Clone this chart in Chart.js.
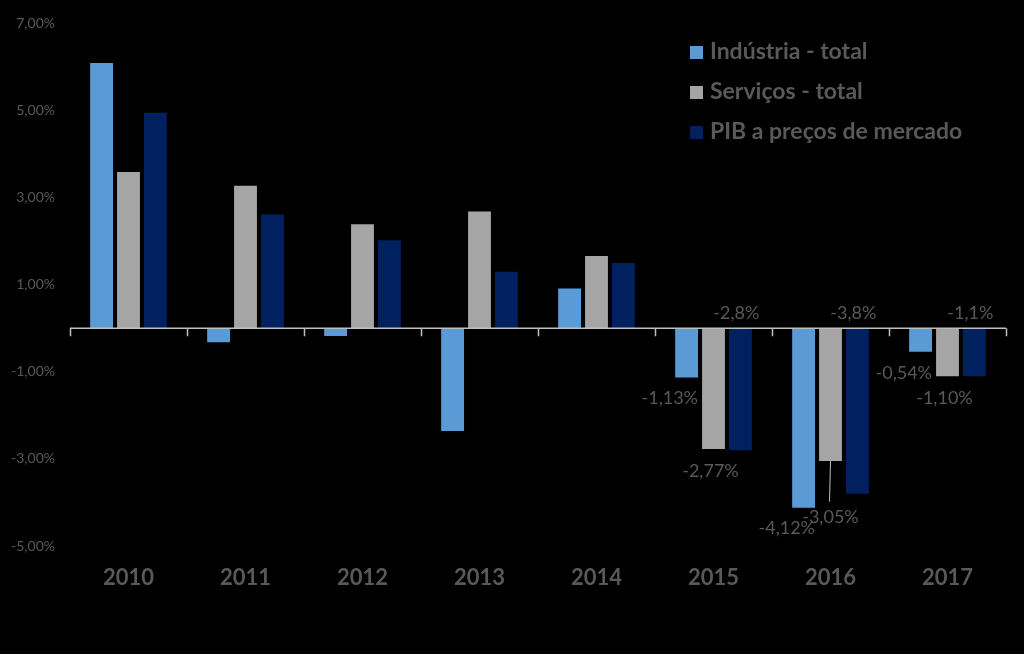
<!DOCTYPE html>
<html>
<head>
<meta charset="utf-8">
<script src="https://cdn.jsdelivr.net/npm/chart.js@4/dist/chart.umd.min.js"></script>
<style>
	html, body { margin: 0; padding: 0; background: #000; }
	canvas { display: block; }
</style>
</head>
<body>
<canvas id="grafico" width="1024" height="654"></canvas>
<script>
// anos e taxas de crescimento (%)
const anos = ['2010', '2011', '2012', '2013', '2014', '2015', '2016', '2017'];
const industria = [6.09, -0.32, -0.18, -2.36, 0.91, -1.13, -4.12, -0.54];
const servicos = [3.59, 3.27, 2.39, 2.68, 1.66, -2.77, -3.05, -1.10];
const pib = [4.95, 2.61, 2.02, 1.30, 1.50, -2.8, -3.8, -1.1];
const nomes = ['Indústria - total', 'Serviços - total', 'PIB a preços de mercado'];
const anosComRotulo = ['2015', '2016', '2017'];
const casasDecimais = [2, 2, 1];

const cores = ['#5B9BD5', '#A5A5A5', '#002060'];
const cinzaTexto = '#595959';
const fonte = 'Lato, "Open Sans", sans-serif';

function formata(v, casas) {
	return v.toFixed(casas).replace('.', ',') + '%';
}

// linha do zero com marcas entre as categorias
const eixoZero = {
	id: 'eixoZero',
	afterDatasetsDraw(chart) {
		const ctx = chart.ctx;
		const area = chart.chartArea;
		const y0 = chart.scales.y.getPixelForValue(0);
		const passo = (area.right - area.left) / anos.length;
		ctx.save();
		ctx.strokeStyle = '#BFBFBF';
		ctx.lineWidth = 1.5;
		ctx.beginPath();
		ctx.moveTo(area.left, y0);
		ctx.lineTo(area.right, y0);
		for (let i = 0; i <= anos.length; i++) {
			const x = Math.round(area.left + i * passo) + 0.5;
			ctx.moveTo(x, y0);
			ctx.lineTo(x, y0 + 8);
		}
		ctx.stroke();
		ctx.restore();
	}
};

// rótulos de dados dos últimos anos
const rotulos = {
	id: 'rotulos',
	afterDatasetsDraw(chart) {
		const ctx = chart.ctx;
		const y0 = chart.scales.y.getPixelForValue(0);
		ctx.save();
		ctx.font = '18px ' + fonte;
		ctx.fillStyle = cinzaTexto;
		ctx.textBaseline = 'middle';
		anos.forEach(function(ano, j) {
			if (anosComRotulo.indexOf(ano) < 0) return;
			const barraInd = chart.getDatasetMeta(0).data[j];
			const barraSer = chart.getDatasetMeta(1).data[j];
			const barraPib = chart.getDatasetMeta(2).data[j];

			// indústria: abaixo da barra, alinhado à direita
			ctx.textAlign = 'right';
			ctx.fillText(formata(industria[j], casasDecimais[0]), barraInd.x + barraInd.width / 2, barraInd.y + 21);

			// serviços: abaixo da barra (ou mais abaixo com linha de chamada)
			ctx.textAlign = 'center';
			if (industria[j] < servicos[j]) {
				const yRot = barraInd.y + 10;
				ctx.strokeStyle = '#BFBFBF';
				ctx.lineWidth = 1;
				ctx.beginPath();
				ctx.moveTo(barraSer.x, barraSer.y);
				ctx.lineTo(barraSer.x - 1, yRot - 16);
				ctx.stroke();
				ctx.fillText(formata(servicos[j], casasDecimais[1]), barraSer.x, yRot);
			} else {
				ctx.fillText(formata(servicos[j], casasDecimais[1]), barraSer.x - 3, barraSer.y + 22);
			}

			// PIB: acima do eixo
			ctx.fillText(formata(pib[j], casasDecimais[2]), barraPib.x - 4, y0 - 15);
		});
		ctx.restore();
	}
};

// legenda vertical no canto superior direito
const legenda = {
	id: 'legenda',
	afterDraw(chart) {
		const ctx = chart.ctx;
		ctx.save();
		ctx.font = 'bold 23px ' + fonte;
		ctx.textBaseline = 'middle';
		ctx.textAlign = 'left';
		nomes.forEach(function(nome, i) {
			const y = 52 + i * 40;
			ctx.fillStyle = cores[i];
			ctx.fillRect(690, y - 6, 13, 13);
			ctx.fillStyle = cinzaTexto;
			ctx.fillText(nome, 710, y);
		});
		ctx.restore();
	}
};

new Chart(document.getElementById('grafico'), {
	type: 'bar',
	data: {
		labels: anos,
		datasets: [
			{ label: nomes[0], data: industria, backgroundColor: cores[0] },
			{ label: nomes[1], data: servicos, backgroundColor: cores[1] },
			{ label: nomes[2], data: pib, backgroundColor: cores[2] }
		]
	},
	options: {
		responsive: false,
		animation: false,
		datasets: {
			bar: { categoryPercentage: 0.69, barPercentage: 0.85 }
		},
		layout: { padding: { top: 17, right: 18, left: 0, bottom: 0 } },
		plugins: {
			legend: { display: false },
			tooltip: { enabled: false }
		},
		scales: {
			x: {
				grid: { display: false, drawTicks: false },
				border: { display: false },
				ticks: {
					color: cinzaTexto,
					font: { family: fonte, size: 22, weight: 'bold' },
					padding: 19
				},
				afterFit: function(scale) { scale.height = 108; }
			},
			y: {
				min: -5,
				max: 7,
				grid: { display: false, drawTicks: false },
				border: { display: false },
				ticks: {
					stepSize: 2,
					color: cinzaTexto,
					font: { family: fonte, size: 14 },
					padding: 15,
					callback: function(v) { return formata(v, 2); }
				},
				afterFit: function(scale) { scale.width = 70; }
			}
		}
	},
	plugins: [eixoZero, rotulos, legenda]
});
</script>
</body>
</html>
